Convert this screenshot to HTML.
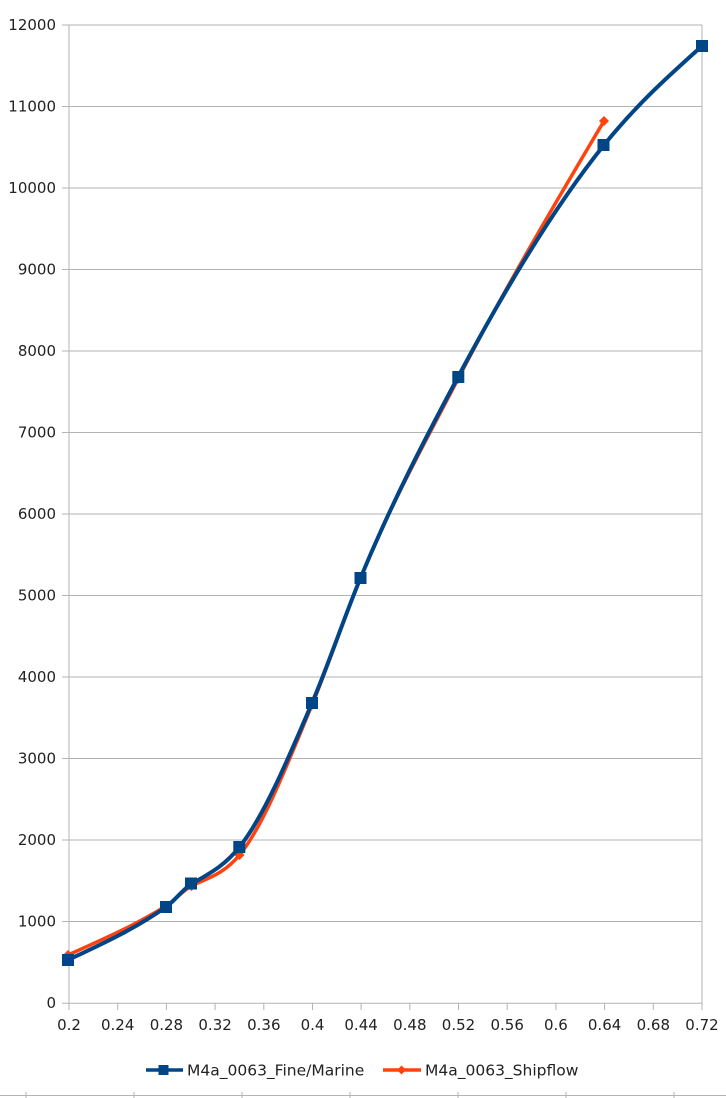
<!DOCTYPE html>
<html><head><meta charset="utf-8"><style>
html,body{margin:0;padding:0;background:#fff;}
svg{display:block;}
text{font-family:"DejaVu Sans","Liberation Sans",sans-serif;fill:#222;}
</style></head><body>
<svg width="726" height="1098" viewBox="0 0 726 1098" xmlns="http://www.w3.org/2000/svg">
<g stroke="#b3b3b3" stroke-width="1" fill="none">
<line x1="62" y1="25" x2="702" y2="25"/>
<line x1="62" y1="106.5" x2="702" y2="106.5"/>
<line x1="62" y1="188" x2="702" y2="188"/>
<line x1="62" y1="269.5" x2="702" y2="269.5"/>
<line x1="62" y1="351" x2="702" y2="351"/>
<line x1="62" y1="432.5" x2="702" y2="432.5"/>
<line x1="62" y1="514" x2="702" y2="514"/>
<line x1="62" y1="595.5" x2="702" y2="595.5"/>
<line x1="62" y1="677" x2="702" y2="677"/>
<line x1="62" y1="758.5" x2="702" y2="758.5"/>
<line x1="62" y1="840" x2="702" y2="840"/>
<line x1="62" y1="921.5" x2="702" y2="921.5"/>
<line x1="62" y1="1003.3" x2="702" y2="1003.3"/>
<line x1="69" y1="25" x2="69" y2="1010"/>
<line x1="702" y1="25" x2="702" y2="1010"/>
<line x1="117.7" y1="1003" x2="117.7" y2="1010"/>
<line x1="166.4" y1="1003" x2="166.4" y2="1010"/>
<line x1="215.1" y1="1003" x2="215.1" y2="1010"/>
<line x1="263.8" y1="1003" x2="263.8" y2="1010"/>
<line x1="312.5" y1="1003" x2="312.5" y2="1010"/>
<line x1="361.1" y1="1003" x2="361.1" y2="1010"/>
<line x1="409.8" y1="1003" x2="409.8" y2="1010"/>
<line x1="458.5" y1="1003" x2="458.5" y2="1010"/>
<line x1="507.2" y1="1003" x2="507.2" y2="1010"/>
<line x1="555.9" y1="1003" x2="555.9" y2="1010"/>
<line x1="604.6" y1="1003" x2="604.6" y2="1010"/>
<line x1="653.3" y1="1003" x2="653.3" y2="1010"/>
<line x1="0" y1="1095.5" x2="726" y2="1095.5"/>
<line x1="26" y1="1092" x2="26" y2="1098"/>
<line x1="134" y1="1092" x2="134" y2="1098"/>
<line x1="242" y1="1092" x2="242" y2="1098"/>
<line x1="350" y1="1092" x2="350" y2="1098"/>
<line x1="458" y1="1092" x2="458" y2="1098"/>
<line x1="566" y1="1092" x2="566" y2="1098"/>
<line x1="674" y1="1092" x2="674" y2="1098"/>
</g>
<g font-size="15" text-anchor="end">
<text x="56" y="30">12000</text>
<text x="56" y="111.5">11000</text>
<text x="56" y="193">10000</text>
<text x="56" y="274.5">9000</text>
<text x="56" y="356">8000</text>
<text x="56" y="437.5">7000</text>
<text x="56" y="519">6000</text>
<text x="56" y="600.5">5000</text>
<text x="56" y="682">4000</text>
<text x="56" y="763.5">3000</text>
<text x="56" y="845">2000</text>
<text x="56" y="926.5">1000</text>
<text x="56" y="1008">0</text>
</g>
<g font-size="15" text-anchor="middle">
<text x="69" y="1030">0.2</text>
<text x="117.7" y="1030">0.24</text>
<text x="166.4" y="1030">0.28</text>
<text x="215.1" y="1030">0.32</text>
<text x="263.8" y="1030">0.36</text>
<text x="312.5" y="1030">0.4</text>
<text x="361.1" y="1030">0.44</text>
<text x="409.8" y="1030">0.48</text>
<text x="458.5" y="1030">0.52</text>
<text x="507.2" y="1030">0.56</text>
<text x="555.9" y="1030">0.6</text>
<text x="604.6" y="1030">0.64</text>
<text x="653.3" y="1030">0.68</text>
<text x="702" y="1030">0.72</text>
</g>
<!-- red series -->
<path fill="none" stroke="#ff420e" stroke-width="3.5" stroke-linejoin="round" d="M68,955 C100.67,940.3 133.33,926.25 166,906 C174.5,900.73 183,890.25 191.5,886 C207.5,878 223.5,874.40 239.5,855 C263.67,825.69 287.83,762.96 312,705 C328.17,666.23 344.33,617.23 360.5,578 C393,499.13 425.5,441.77 458,379 C506.67,285.01 555.33,203.0 604,121"/>
<g fill="#ff420e">
<polygon points="68,950 73,955 68,960 63,955"/>
<polygon points="166,901 171,906 166,911 161,906"/>
<polygon points="191.5,881 196.5,886 191.5,891 186.5,886"/>
<polygon points="239.5,850 244.5,855 239.5,860 234.5,855"/>
<polygon points="312,700 317,705 312,710 307,705"/>
<polygon points="360.5,573 365.5,578 360.5,583 355.5,578"/>
<polygon points="458,374 463,379 458,384 453,379"/>
<polygon points="604,116 609,121 604,126 599,121"/>
</g>
<!-- blue series -->
<path fill="none" stroke="#004586" stroke-width="4" stroke-linejoin="round" d="M68,960 C100.67,944.65 133.33,929.87 166,907 C174.5,901.05 183,889.1 191.5,884 C207.5,874.4 223.5,867.08 239.5,847 C263.67,816.67 287.83,759.56 312,703 C328.17,665.17 344.33,616.90 360.5,578 C393,499.80 425.5,437.85 458,377 C506.67,285.88 555.33,205.48 604,145 C636.67,104.41 669.33,75.20 702,46"/>
<g fill="#004586">
<rect x="62" y="954" width="12" height="12"/>
<rect x="160" y="901" width="12" height="12"/>
<rect x="185" y="877.5" width="12" height="12"/>
<rect x="233.3" y="841" width="12" height="12"/>
<rect x="306" y="697" width="12" height="12"/>
<rect x="354.5" y="572" width="12" height="12"/>
<rect x="452.3" y="371" width="12" height="12"/>
<rect x="597.5" y="139" width="12" height="12"/>
<rect x="696" y="40" width="12" height="12"/>
</g>
<!-- legend -->
<line x1="146" y1="1070" x2="183" y2="1070" stroke="#004586" stroke-width="3.5"/>
<rect x="158.5" y="1065" width="10" height="10" fill="#004586"/>
<text x="187" y="1075.5" font-size="15.5">M4a_0063_Fine/Marine</text>
<line x1="383" y1="1070" x2="421" y2="1070" stroke="#ff420e" stroke-width="3.5"/>
<polygon points="401.5,1065.5 406,1070 401.5,1074.5 397,1070" fill="#ff420e"/>
<text x="425" y="1075.5" font-size="15.5">M4a_0063_Shipflow</text>
</svg>
</body></html>
